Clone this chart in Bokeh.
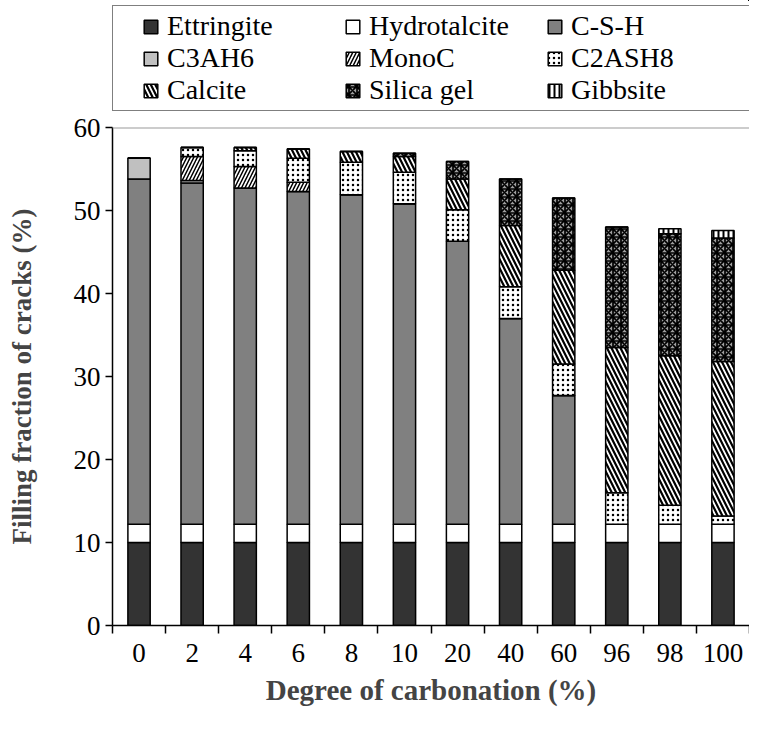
from bokeh.plotting import figure
from bokeh.layouts import column
from bokeh.models import ColumnDataSource, Range1d, FixedTicker, Legend, LegendItem, Span
from bokeh.transform import stack
from bokeh.embed import file_html
from bokeh.resources import INLINE

# ---- data ----
carbonation = ["0", "2", "4", "6", "8", "10", "20", "40", "60", "96", "98", "100"]
ettringite = [10.0, 10.0, 10.0, 10.0, 10.0, 10.0, 10.0, 10.0, 10.0, 10.0, 10.0, 10.0]
hydrotalcite = [2.2, 2.2, 2.2, 2.2, 2.2, 2.2, 2.2, 2.2, 2.2, 2.2, 2.2, 2.2]
csh = [41.6, 41.1, 40.5, 40.1, 39.7, 38.6, 34.1, 24.8, 15.5, 0.0, 0.0, 0.0]
c3ah6 = [2.5, 0.3, 0.0, 0.0, 0.0, 0.0, 0.0, 0.0, 0.0, 0.0, 0.0, 0.0]
monoc = [0.0, 2.9, 2.6, 1.1, 0.0, 0.0, 0.0, 0.0, 0.0, 0.0, 0.0, 0.0]
c2ash8 = [0.0, 1.1, 1.9, 2.9, 3.9, 3.8, 3.8, 3.8, 3.8, 3.8, 2.3, 1.0]
calcite = [0.0, 0.0, 0.4, 1.1, 1.3, 1.9, 3.7, 7.4, 11.3, 17.5, 18.0, 18.6]
silica_gel = [0.0, 0.0, 0.0, 0.0, 0.0, 0.4, 2.1, 5.6, 8.7, 14.5, 14.7, 14.9]
gibbsite = [0.0, 0.0, 0.0, 0.0, 0.0, 0.0, 0.0, 0.0, 0.0, 0.0, 0.6, 0.9]
y_ticks = [0, 10, 20, 30, 40, 50, 60]

series_names = ["Ettringite", "Hydrotalcite", "C-S-H", "C3AH6", "MonoC",
                "C2ASH8", "Calcite", "Silica gel", "Gibbsite"]
series_values = [ettringite, hydrotalcite, csh, c3ah6, monoc,
                 c2ash8, calcite, silica_gel, gibbsite]

# ---- styles ----
styles = {
    "Ettringite":   dict(fill_color="#333333"),
    "Hydrotalcite": dict(fill_color="#ffffff"),
    "C-S-H":        dict(fill_color="#808080"),
    "C3AH6":        dict(fill_color="#c0c0c0"),
    "MonoC":        dict(fill_color="#ffffff", hatch_pattern="/", hatch_color="#000000",
                         hatch_scale=7, hatch_weight=1.5),
    "C2ASH8":       dict(fill_color="#ffffff", hatch_pattern=".", hatch_color="#000000",
                         hatch_scale=5, hatch_weight=2.2),
    "Calcite":      dict(fill_color="#ffffff", hatch_pattern="\\", hatch_color="#000000",
                         hatch_scale=9, hatch_weight=2.2),
    "Silica gel":   dict(fill_color="#a0a0a0", hatch_pattern="*", hatch_color="#000000",
                         hatch_scale=8, hatch_weight=1.7),
    "Gibbsite":     dict(fill_color="#ffffff", hatch_pattern="|", hatch_color="#000000",
                         hatch_scale=5, hatch_weight=2.0),
}

FONT = "Liberation Serif"
W = 749
H_LEG = 112
H_MAIN = 605

n = len(carbonation)
xpos = [i + 0.5 for i in range(n)]
data = {"x": xpos, "label": carbonation}
keys = []
for i, (name, vals) in enumerate(zip(series_names, series_values)):
    k = f"s{i}"
    keys.append(k)
    data[k] = vals
source = ColumnDataSource(data)


def add_bars(fig):
    rs = []
    for i, name in enumerate(series_names):
        bottom = stack(*keys[:i]) if i > 0 else 0
        rs.append(fig.vbar(x="x", width=0.42, bottom=bottom, top=stack(*keys[:i + 1]),
                           source=source, line_color="#000000", line_width=1.5,
                           **styles[name]))
    return rs


# ---------------- main chart ----------------
p = figure(width=W, height=H_MAIN, output_backend="svg", toolbar_location=None,
           x_range=Range1d(0, n), y_range=Range1d(0, 60),
           min_border_left=112, min_border_right=0, min_border_top=15,
           min_border_bottom=92)
p.outline_line_color = None
p.xgrid.visible = False
p.ygrid.visible = False
add_bars(p)

# top frame line
p.add_layout(Span(location=60, dimension="width", line_color="#9a9a9a", line_width=2))

# y axis
yax = p.yaxis[0]
yax.ticker = FixedTicker(ticks=y_ticks)
yax.axis_label = "Filling fraction of cracks (%)"
yax.axis_label_text_font = FONT
yax.axis_label_text_font_style = "bold"
yax.axis_label_text_font_size = "27px"
yax.axis_label_standoff = 34
yax.major_label_text_font = FONT
yax.major_label_text_font_size = "27px"
yax.major_label_text_color = "#000000"
yax.major_tick_out = 7
yax.major_tick_in = 0
yax.minor_tick_line_color = None
yax.axis_line_width = 1.5
yax.axis_line_color = "#000000"
yax.major_tick_line_width = 1.5
yax.major_label_standoff = 5

# x axis (tick marks between categories, labels under the bars)
xax = p.xaxis[0]
xax.ticker = FixedTicker(ticks=xpos, minor_ticks=list(range(n + 1)))
xax.major_label_overrides = {x: lab for x, lab in zip(xpos, carbonation)}
xax.axis_label = "Degree of carbonation (%)"
xax.axis_label_text_font = FONT
xax.axis_label_text_font_style = "bold"
xax.axis_label_text_font_size = "29px"
xax.axis_label_standoff = 9
xax.major_label_text_font = FONT
xax.major_label_text_font_size = "27px"
xax.major_label_text_color = "#000000"
xax.major_tick_out = 0
xax.major_tick_in = 0
xax.minor_tick_out = 8
xax.minor_tick_in = 0
xax.minor_tick_line_color = "#000000"
xax.minor_tick_line_width = 1.5
xax.axis_line_width = 1.5
xax.axis_line_color = "#000000"
xax.major_label_standoff = 10

# ---------------- legend strip above the chart ----------------
# same bars, drawn against x and y ranges they never reach, so only the legend shows
pl = figure(width=W, height=H_LEG, output_backend="svg", toolbar_location=None,
            x_range=Range1d(-60, -48), y_range=Range1d(-300, -240),
            x_axis_location=None, y_axis_location=None, min_border=0)
pl.outline_line_color = None
pl.xgrid.visible = False
pl.ygrid.visible = False
proxies = add_bars(pl)

# three rows of three; Bokeh fills columns first, so order items accordingly
order = [0, 3, 6, 1, 4, 7, 2, 5, 8]
items = [LegendItem(label=series_names[i], renderers=[proxies[i]]) for i in order]
legend = Legend(items=items, ncols=3, location=(0, 1), margin=0, padding=4,
                spacing=0, glyph_width=17, glyph_height=17, label_standoff=8,
                label_width=177, label_text_font=FONT, label_text_font_size="28px",
                label_text_color="#000000",
                border_line_color="#000000", border_line_width=1.5,
                background_fill_color="#ffffff", background_fill_alpha=1.0,
                title=" ", title_location="left", title_text_font_size="1px",
                title_standoff=24)
pl.add_layout(legend, "center")

layout = column(pl, p, spacing=0)
open("out.html", "w").write(file_html(layout, INLINE))
